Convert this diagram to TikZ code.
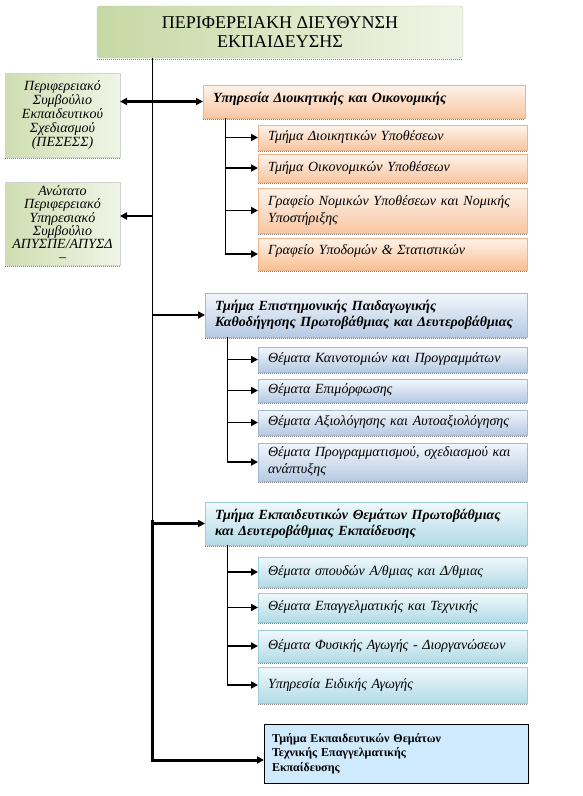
\documentclass[tikz,border=0pt]{standalone}
\usepackage{fontspec}
\setmainfont{Liberation Serif}
\usetikzlibrary{arrows.meta}

\definecolor{grL}{HTML}{C6D8A4}
\definecolor{grR}{HTML}{F0F5E6}
\definecolor{ortop}{HTML}{FEF3EA}
\definecolor{orbot}{HTML}{F8C6A2}
\definecolor{orline}{HTML}{EDB58E}
\definecolor{bltop}{HTML}{F2F6FB}
\definecolor{blbot}{HTML}{B6CAE3}
\definecolor{blline}{HTML}{A3B8D4}
\definecolor{tltop}{HTML}{F0F9FC}
\definecolor{tlbot}{HTML}{B2DBE6}
\definecolor{tlline}{HTML}{9CCCDA}
\definecolor{teefill}{HTML}{CFE9FD}

\begin{document}
\begin{tikzpicture}[x=1pt,y=-1pt,inner sep=0pt,outer sep=0pt,
hdrbox/.style={draw=grL!80!gray,rounded corners=3pt,left color=grL,right color=grR,minimum width=366pt,minimum height=52pt,align=center,anchor=north west,font=\fontsize{18}{19}\selectfont},
sidebox/.style={draw=gray!35,left color=grL!85,right color=grR,minimum width=115pt,minimum height=84pt,align=center,anchor=north west,font=\itshape\fontsize{14}{14}\selectfont},
headbox/.style={draw=#1line,top color=#1top,bottom color=#1bot,text width=302pt,inner xsep=10pt,align=left,anchor=north west,font=\bfseries\itshape\fontsize{14}{16}\selectfont},
subbox/.style={draw=#1line,top color=#1top,bottom color=#1bot,text width=249pt,inner xsep=10pt,align=left,anchor=north west,font=\itshape\fontsize{14}{17}\selectfont},
trunk/.style={line width=0.8pt},
mainarr/.style={-{Triangle[length=7pt,width=7pt]},line width=2.5pt},
subarr/.style={-{Triangle[length=7pt,width=7pt]},line width=1.8pt}]

\useasboundingbox (0,0) rectangle (582,796);

% header and side councils
\draw (97,6) node[hdrbox] (hdr) {ΠΕΡΙΦΕΡΕΙΑΚΗ ΔΙΕΥΘΥΝΣΗ\\ΕΚΠΑΙΔΕΥΣΗΣ};
\draw (5,73) node[sidebox] (pesess) {Περιφερειακό\\Συμβούλιο\\Εκπαιδευτικού\\Σχεδιασμού\\(ΠΕΣΕΣΣ)};
\draw (5,182) node[sidebox,minimum height=83pt,font=\itshape\fontsize{14}{12.8}\selectfont] (apyspe) {Ανώτατο\\Περιφερειακό\\Υπηρεσιακό\\Συμβούλιο\\ΑΠΥΣΠΕ/ΑΠΥΣΔ\\–};

% administrative service
\draw (203,85) node[headbox=or,minimum height=33pt,text depth=8pt] (dioik) {Υπηρεσία Διοικητικής και Οικονομικής};
\draw (258,125) node[subbox=or,minimum height=25pt] (dioikA) {Τμήμα Διοικητικών Υποθέσεων};
\draw (258,154) node[subbox=or,minimum height=28pt] (dioikB) {Τμήμα Οικονομικών Υποθέσεων};
\draw (258,188) node[subbox=or,minimum height=45pt] (dioikC) {Γραφείο Νομικών Υποθέσεων και Νομικής\\Υποστήριξης};
\draw (258,238) node[subbox=or,minimum height=32pt,text depth=8pt,bottom color=orbot!90!orange] (dioikD) {Γραφείο Υποδομών \& Στατιστικών};

% scientific guidance
\draw (205,293) node[headbox=bl,minimum height=44pt] (epist) {Τμήμα Επιστημονικής Παιδαγωγικής\\Καθοδήγησης Πρωτοβάθμιας και Δευτεροβάθμιας};
\draw (258,347) node[subbox=bl,minimum height=25pt] (epistA) {Θέματα Καινοτομιών και Προγραμμάτων};
\draw (258,379) node[subbox=bl,minimum height=23pt] (epistB) {Θέματα Επιμόρφωσης};
\draw (258,410) node[subbox=bl,minimum height=25pt] (epistC) {Θέματα Αξιολόγησης και Αυτοαξιολόγησης};
\draw (258,443) node[subbox=bl,minimum height=38pt] (epistD) {Θέματα Προγραμματισμού, σχεδιασμού και\\ανάπτυξης};

% educational matters
\draw (205,502) node[headbox=tl,minimum height=43pt] (ekp) {Τμήμα Εκπαιδευτικών Θεμάτων Πρωτοβάθμιας\\και Δευτεροβάθμιας Εκπαίδευσης};
\draw (258,557) node[subbox=tl,minimum height=30pt] (ekpA) {Θέματα σπουδών Α/θμιας και Δ/θμιας};
\draw (258,593) node[subbox=tl,minimum height=29pt] (ekpB) {Θέματα Επαγγελματικής και Τεχνικής};
\draw (258,630) node[subbox=tl,minimum height=32pt] (ekpC) {Θέματα Φυσικής Αγωγής - Διοργανώσεων};
\draw (258,667) node[subbox=tl,minimum height=36pt] (ekpD) {Υπηρεσία Ειδικής Αγωγής};

\draw (264,724) node[draw,fill=teefill,line width=0.8pt,minimum width=264pt,minimum height=59pt,anchor=north west,text width=248pt,inner xsep=8pt,align=left,font=\bfseries\fontsize{12}{14.5}\selectfont] (tee) {Τμήμα Εκπαιδευτικών Θεμάτων\\Τεχνικής Επαγγελματικής\\Εκπαίδευσης};

% dotted shadows
\foreach \n in {hdr,pesess,apyspe,dioik,dioikA,dioikB,dioikC,dioikD,epist,epistA,epistB,epistC,epistD,ekp,ekpA,ekpB,ekpC,ekpD}
  \draw[densely dotted,gray,line width=1pt] ([yshift=-1pt]\n.south west) -- ([yshift=-1pt]\n.south east);

% trunk
\coordinate (tTop) at (152,58);
\coordinate (tSide) at (152,216);
\coordinate (tBot) at (152,760);
\draw[trunk] (tTop) -- (tTop |- ekp.west);
\draw[mainarr] (tTop |- dioik.west) -- (dioik.west);
\draw[mainarr] (tTop |- dioik.west) -- (dioik.west -| pesess.east);
\draw[subarr] (tSide) -- (tSide -| apyspe.east);
\draw[mainarr] (tTop |- epist.west) -- (epist.west);
\draw[mainarr] (tTop |- ekp.west) -- (ekp.west);
\draw[mainarr,line width=3pt] ([yshift=4pt]tTop |- ekp.west) -- (tBot) -- (tBot -| tee.west);

% branches
\foreach \h/\a/\b/\c/\d in {dioik/dioikA/dioikB/dioikC/dioikD,epist/epistA/epistB/epistC/epistD,ekp/ekpA/ekpB/ekpC/ekpD}{
  \draw[trunk] (\h.south west) ++(22,0) coordinate (\h stem) -- (\h stem |- \d.west);
  \foreach \s in {\a,\b,\c,\d}
    \draw[subarr] (\h stem |- \s.west) -- (\s.west);
}
\end{tikzpicture}
\end{document}
